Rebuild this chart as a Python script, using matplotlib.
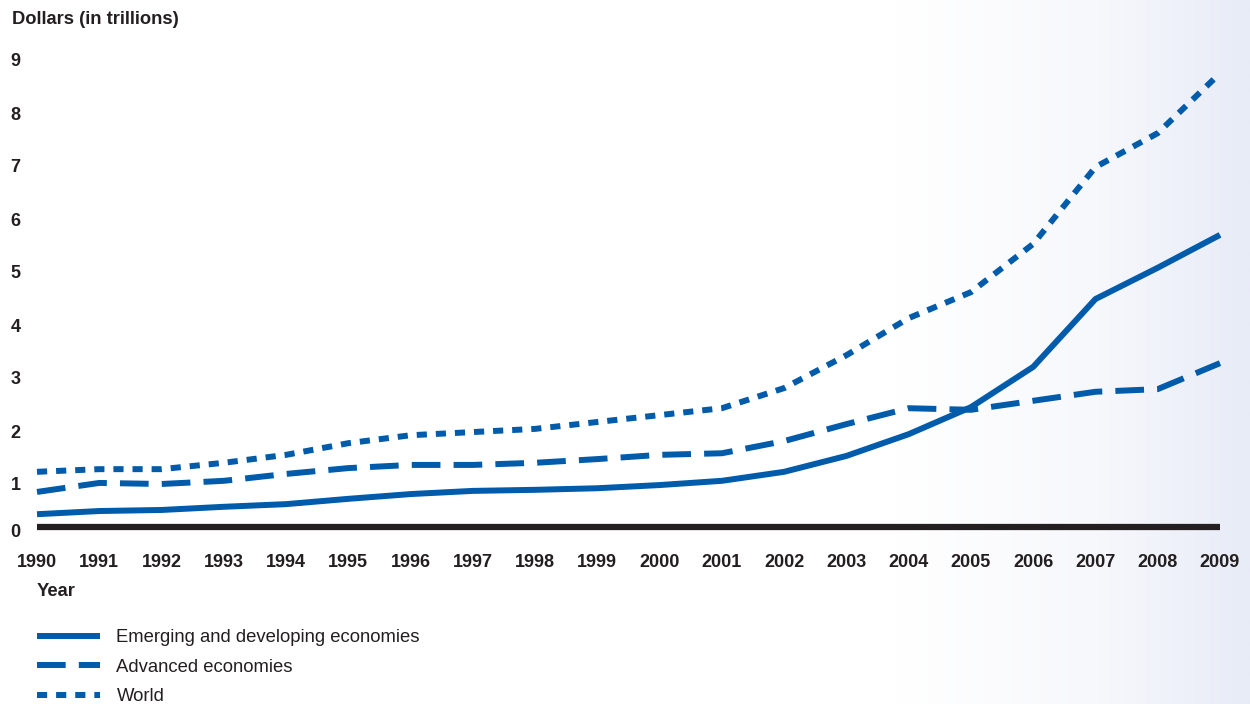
import matplotlib.pyplot as plt
import numpy as np
from matplotlib.colors import LinearSegmentedColormap

plt.rcParams['font.family'] = ['Liberation Sans', 'DejaVu Sans']

years = list(range(1990, 2010))
emerging = [0.43, 0.49, 0.51, 0.57, 0.62, 0.72, 0.81, 0.87, 0.89, 0.92,
            0.98, 1.06, 1.23, 1.53, 1.94, 2.45, 3.21, 4.49, 5.08, 5.70]
advanced = [0.85, 1.02, 1.00, 1.06, 1.19, 1.30, 1.36, 1.36, 1.40, 1.47,
            1.55, 1.58, 1.81, 2.13, 2.43, 2.40, 2.57, 2.74, 2.79, 3.28]
world = [1.23, 1.28, 1.28, 1.40, 1.55, 1.77, 1.92, 1.98, 2.04, 2.17,
         2.30, 2.43, 2.81, 3.43, 4.13, 4.62, 5.53, 6.98, 7.62, 8.75]
labels = ['Emerging and developing economies', 'Advanced economies', 'World']

blue = '#005baa'
ink = '#231f20'

W, H = 1250, 704
fig = plt.figure(figsize=(W / 100, H / 100), dpi=100)

# light gradient on the right edge
bg = fig.add_axes([0, 0, 1, 1], zorder=-10)
cmap = LinearSegmentedColormap.from_list(
    'bg', [(0, '#ffffff'), (0.72, '#ffffff'), (0.88, '#f7f8fc'), (1, '#e8ecf7')])
bg.imshow(np.linspace(0, 1, 600)[None, :], aspect='auto', cmap=cmap, extent=[0, 1, 0, 1])
bg.axis('off')

x0, x1 = 37 / W, 1220 / W
y0, y1 = (H - 537) / H, (H - 60) / H
ax = fig.add_axes([x0, y0, x1 - x0, y1 - y0])
ax.patch.set_alpha(0)
ax.set_xlim(1990, 2009)
ax.set_ylim(0, 9)
for s in ax.spines.values():
    s.set_visible(False)

lw = 4.3
ax.plot(years, emerging, color=blue, lw=lw, solid_capstyle='butt', clip_on=False, label=labels[0])
ax.plot(years, advanced, color=blue, lw=lw, dashes=(4.8, 2.2), dash_capstyle='butt', clip_on=False, label=labels[1])
ax.plot(years, world, color=blue, lw=lw, dashes=(1.7, 1.5), dash_capstyle='butt', clip_on=False, label=labels[2])
ax.axhline(0.19, color=ink, lw=4.5, solid_capstyle='butt', clip_on=False)

ax.set_yticks([0.13] + list(range(1, 10)))
ax.set_yticklabels([str(i) for i in range(10)])
ax.set_xticks(years)
ax.set_xticklabels([str(y) for y in years])
ax.tick_params(length=0, labelsize=13, labelcolor=ink)
ax.tick_params(axis='x', pad=12)
ax.tick_params(axis='y', pad=19)
for t in ax.get_xticklabels() + ax.get_yticklabels():
    t.set_fontweight('bold')
for t in ax.get_yticklabels():
    t.set_horizontalalignment('left')

fig.text(12 / W, 1 - 19 / H, 'Dollars (in trillions)', fontsize=13.2, fontweight='bold',
         color=ink, va='center', ha='left')
fig.text(37 / W, 1 - 591 / H, 'Year', fontsize=13.2, fontweight='bold',
         color=ink, va='center', ha='left')

fig.legend(loc='upper left', bbox_to_anchor=(37 / W, 1 - 629 / H), frameon=False,
           fontsize=13.3, handlelength=3.4, handletextpad=0.9, labelspacing=0.68,
           labelcolor=ink, borderaxespad=0, borderpad=0)

fig.savefig('out.png', dpi=100)
